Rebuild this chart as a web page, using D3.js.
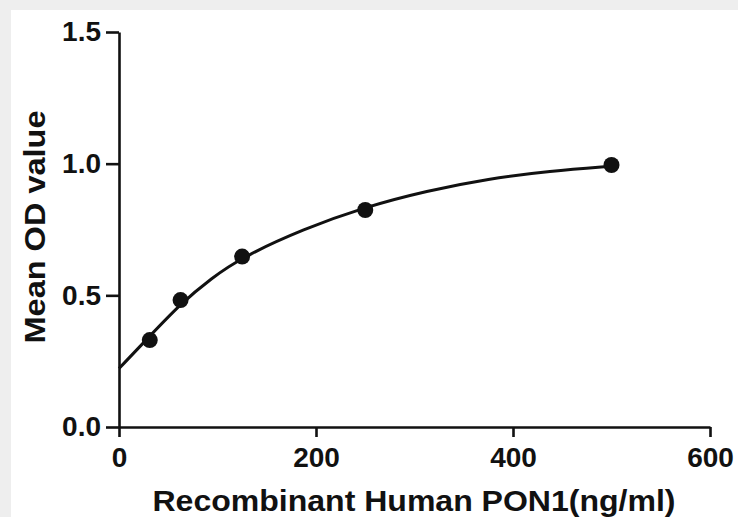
<!DOCTYPE html>
<html><head><meta charset="utf-8">
<script src="https://cdn.jsdelivr.net/npm/d3@7"></script>
<style>
html,body{margin:0;padding:0;background:#eeeeee;}
svg{display:block;}
text{font-family:"Liberation Sans",Arial,sans-serif;font-weight:bold;fill:#111;}
</style></head><body>
<svg id="c" width="738" height="517"></svg>
<script>
const concentrations = [31.25, 62.5, 125, 250, 500];
const meanOD = [0.33, 0.482, 0.647, 0.824, 0.995];
const fitX = [0, 31.25, 62.5, 93.75, 125, 187.5, 250, 312.5, 375, 437.5, 500];
const fitY = [0.222, 0.345, 0.468, 0.565, 0.645, 0.752, 0.836, 0.897, 0.943, 0.972, 0.99];
const xTicks = [0, 200, 400, 600];
const yTicks = [0.0, 0.5, 1.0, 1.5];
const xTitle = "Recombinant Human PON1(ng/ml)";
const yTitle = "Mean OD value";

const svg = d3.select("#c");
svg.append("rect").attr("x", 11).attr("y", 10).attr("width", 727).attr("height", 507).attr("fill", "#fff");

const x = d3.scaleLinear().domain([0, 600]).range([119, 710]);
const y = d3.scaleLinear().domain([0, 1.5]).range([427, 32]);

const xAxis = svg.append("g").attr("transform", "translate(0,427)")
  .call(d3.axisBottom(x).tickValues(xTicks).tickFormat(d3.format("d")).tickSize(10).tickPadding(10).tickSizeOuter(0));
const yAxis = svg.append("g").attr("transform", "translate(119,0)")
  .call(d3.axisLeft(y).tickValues(yTicks).tickFormat(d3.format(".1f")).tickSize(13).tickPadding(5).tickSizeOuter(0));
[xAxis, yAxis].forEach(g => {
  g.selectAll("path").attr("stroke", "#111").attr("stroke-width", 2.6);
  g.selectAll("line").attr("stroke", "#111").attr("stroke-width", 2.6);
  g.selectAll("text").style("font-size", "28px").attr("fill", "#111");
});

svg.append("path")
  .datum(fitX.map((d, i) => [d, fitY[i]]))
  .attr("fill", "none").attr("stroke", "#111").attr("stroke-width", 3)
  .attr("d", d3.line().x(d => x(d[0])).y(d => y(d[1])).curve(d3.curveBasis));

svg.selectAll("circle.pt").data(concentrations).enter().append("circle")
  .attr("class", "pt")
  .attr("cx", d => x(d)).attr("cy", (d, i) => y(meanOD[i])).attr("r", 8).attr("fill", "#111");

svg.append("text").attr("x", 414).attr("y", 511).attr("text-anchor", "middle")
  .attr("textLength", 523).attr("lengthAdjust", "spacingAndGlyphs")
  .style("font-size", "29px").text(xTitle);
svg.append("text").attr("transform", "translate(45,227) rotate(-90)").attr("text-anchor", "middle")
  .attr("textLength", 233).attr("lengthAdjust", "spacingAndGlyphs")
  .style("font-size", "29px").text(yTitle);
</script>
</body></html>
